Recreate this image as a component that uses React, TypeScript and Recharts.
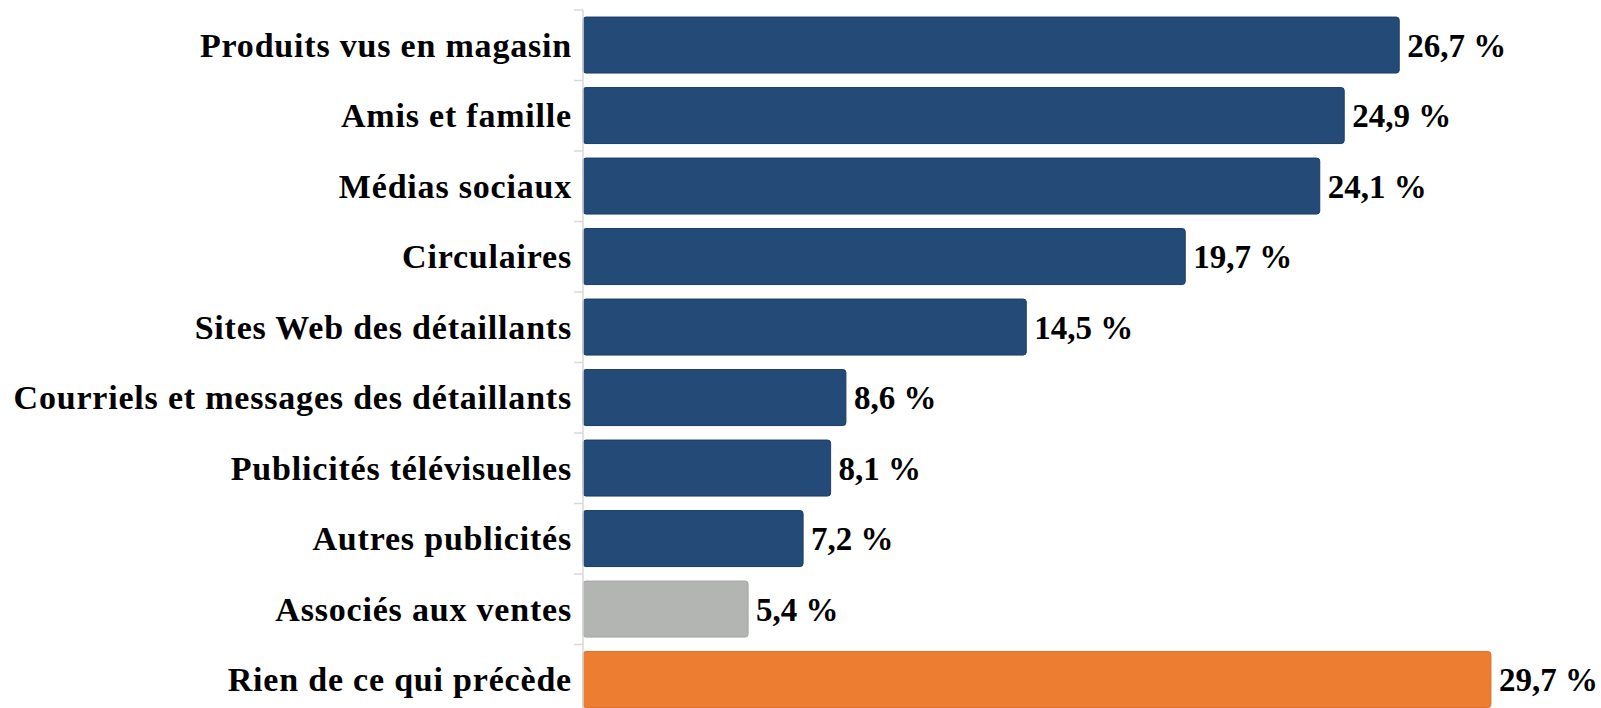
import { BarChart, Bar, XAxis, YAxis, Cell, LabelList } from 'recharts'

const categories = [
  'Produits vus en magasin',
  'Amis et famille',
  'Médias sociaux',
  'Circulaires',
  'Sites Web des détaillants',
  'Courriels et messages des détaillants',
  'Publicités télévisuelles',
  'Autres publicités',
  'Associés aux ventes',
  'Rien de ce qui précède',
]
const values = [26.7, 24.9, 24.1, 19.7, 14.5, 8.6, 8.1, 7.2, 5.4, 29.7]
const barColors = [
  '#244a77', '#244a77', '#244a77', '#244a77', '#244a77',
  '#244a77', '#244a77', '#244a77', '#b3b5b2', '#ed7d31',
]
const strokeColors = [
  '#1c3d66', '#1c3d66', '#1c3d66', '#1c3d66', '#1c3d66',
  '#1c3d66', '#1c3d66', '#1c3d66', '#a3a5a2', '#e07028',
]

const data = categories.map((name, i) => ({ name, value: values[i] }))

const FONT = '"Liberation Serif", "DejaVu Serif", serif'

function CategoryTick({ x, y, payload }: any) {
  const half = payload?.offset ?? 35.25
  return (
    <g>
      <line x1={x + 2} x2={x + 11} y1={y - half} y2={y - half} stroke="#d9d9d9" strokeWidth={1.5} />
      <text
        x={x}
        y={y}
        dy="0.34em"
        textAnchor="end"
        fontFamily={FONT}
        fontWeight="bold"
        fontSize={34}
        letterSpacing={0.8}
        fill="#000"
      >
        {payload.value}
      </text>
    </g>
  )
}

const formatPct = (v: number) => `${v.toFixed(1).replace('.', ',')} %`

export default function App() {
  return (
    <div style={{ position: 'fixed', top: 0, left: 0, width: 1601, height: 708, overflow: 'hidden', background: '#fff' }}>
      <BarChart
        width={1601}
        height={720}
        data={data}
        layout="vertical"
        margin={{ top: 10, right: 0, bottom: 5, left: 0 }}
        barCategoryGap="10%"
      >
        <XAxis type="number" domain={[0, 33.3]} hide />
        <YAxis
          type="category"
          dataKey="name"
          width={583}
          tickSize={0}
          tickMargin={11}
          tickLine={false}
          axisLine={{ stroke: '#d9d9d9', strokeWidth: 1.5 }}
          tick={<CategoryTick />}
          interval={0}
        />
        <Bar dataKey="value" isAnimationActive={false} radius={3} strokeWidth={1}>
          {data.map((d, i) => (
            <Cell key={d.name} fill={barColors[i]} stroke={strokeColors[i]} />
          ))}
          <LabelList
            dataKey="value"
            position="right"
            offset={8}
            formatter={(v: any) => formatPct(Number(v))}
            style={{ fontFamily: FONT, fontWeight: 'bold', fontSize: 33, fill: '#000' }}
          />
        </Bar>
      </BarChart>
    </div>
  )
}
